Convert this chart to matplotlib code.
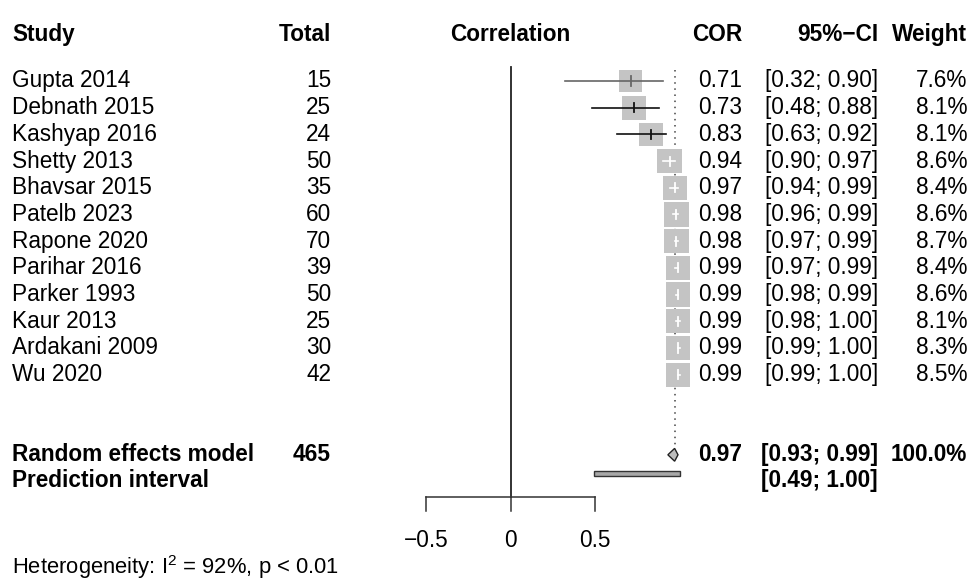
import numpy as np
import matplotlib.pyplot as plt
from matplotlib.patches import Rectangle, Polygon
import matplotlib.transforms as mtransforms

plt.rcParams['font.family'] = ['Liberation Sans', 'DejaVu Sans']
plt.rcParams['mathtext.fontset'] = 'custom'
plt.rcParams['mathtext.rm'] = 'Liberation Sans'

studies = ['Gupta 2014', 'Debnath 2015', 'Kashyap 2016', 'Shetty 2013', 'Bhavsar 2015',
           'Patelb 2023', 'Rapone 2020', 'Parihar 2016', 'Parker 1993', 'Kaur 2013',
           'Ardakani 2009', 'Wu 2020']
totals = [15, 25, 24, 50, 35, 60, 70, 39, 50, 25, 30, 42]
cor = [0.71, 0.73, 0.83, 0.94, 0.97, 0.98, 0.98, 0.99, 0.99, 0.99, 0.99, 0.99]
lower = [0.32, 0.48, 0.63, 0.90, 0.94, 0.96, 0.97, 0.97, 0.98, 0.98, 0.99, 0.99]
upper = [0.90, 0.88, 0.92, 0.97, 0.99, 0.99, 0.99, 0.99, 0.99, 1.00, 1.00, 1.00]
weights = [7.6, 8.1, 8.1, 8.6, 8.4, 8.6, 8.7, 8.4, 8.6, 8.1, 8.3, 8.5]

re_total = 465
re_cor, re_lo, re_hi = 0.97, 0.93, 0.99
pi_lo, pi_hi = 0.49, 1.00
xticks = [-0.5, 0, 0.5]

W, H = 971, 582
fig = plt.figure(figsize=(W / 100, H / 100), dpi=100)
ax = fig.add_axes([0, 0, 1, 1])
ax.axis('off')
# 1 correlation unit = 169 px, zero at 510.7 px; one row = 26.7 px
ax.set_xlim(-510.7 / 169, (W - 510.7) / 169)
ax.set_ylim((H - 81) / 26.7, -81 / 26.7)
px_x = W / (ax.get_xlim()[1] - ax.get_xlim()[0])
px_y = H / (ax.get_ylim()[0] - ax.get_ylim()[1])

fs = 16.3
tr = mtransforms.blended_transform_factory(fig.transFigure, ax.transData)
col_study, col_total, col_cor, col_ci, col_wt = 12 / W, 331 / W, 742 / W, 878 / W, 967 / W

# header
hy = -1.76
ax.text(col_study, hy, 'Study', transform=tr, fontsize=fs, fontweight='bold', va='center')
ax.text(col_total, hy, 'Total', transform=tr, fontsize=fs, fontweight='bold', va='center', ha='right')
ax.text(0.0, hy, 'Correlation', fontsize=fs, fontweight='bold', va='center', ha='center')
ax.text(col_cor, hy, 'COR', transform=tr, fontsize=fs, fontweight='bold', va='center', ha='right')
ax.text(col_ci, hy, '95%\u2212CI', transform=tr, fontsize=fs, fontweight='bold', va='center', ha='right')
ax.text(col_wt, hy, 'Weight', transform=tr, fontsize=fs, fontweight='bold', va='center', ha='right')

re_row, pi_row = 14, 15
axis_y = 15.57

# reference lines
ax.plot([0, 0], [-0.52, axis_y], color='#222222', lw=1.3, zorder=1)
dia_h = 0.24
ax.plot([re_cor, re_cor], [-0.42, re_row - dia_h], color='#444444', lw=1.1,
        linestyle=(0, (1, 3)), zorder=1)

for i in range(len(studies)):
    side = 8.34 * np.sqrt(weights[i])  # px
    bw, bh = side / px_x, side / px_y
    ax.add_patch(Rectangle((cor[i] - bw / 2, i - bh / 2), bw, bh,
                           facecolor='#c4c4c4', edgecolor='none', zorder=2))
    inside = (lower[i] >= cor[i] - bw / 2) and (upper[i] <= cor[i] + bw / 2)
    lc = 'white' if inside else ('#666666' if i == 0 else '#111111')
    ax.plot([lower[i], upper[i]], [i, i], color=lc, lw=1.2, zorder=3)
    ax.plot([cor[i], cor[i]], [i - 0.17, i + 0.17], color=lc, lw=1.3, zorder=3)

    ax.text(col_study, i, studies[i], transform=tr, fontsize=fs, va='center')
    ax.text(col_total, i, str(totals[i]), transform=tr, fontsize=fs, va='center', ha='right')
    ax.text(col_cor, i, f'{cor[i]:.2f}', transform=tr, fontsize=fs, va='center', ha='right')
    ax.text(col_ci, i, f'[{lower[i]:.2f}; {upper[i]:.2f}]', transform=tr, fontsize=fs,
            va='center', ha='right')
    ax.text(col_wt, i, f'{weights[i]:.1f}%', transform=tr, fontsize=fs, va='center', ha='right')

# random effects diamond
ax.add_patch(Polygon([[re_lo, re_row], [re_cor, re_row - dia_h], [re_hi, re_row],
                      [re_cor, re_row + dia_h]], closed=True,
                     facecolor='#bdbdbd', edgecolor='#222222', lw=1.0, zorder=3))
ax.text(col_study, re_row, 'Random effects model', transform=tr, fontsize=fs,
        fontweight='bold', va='center')
ax.text(col_total, re_row, str(re_total), transform=tr, fontsize=fs, fontweight='bold',
        va='center', ha='right')
ax.text(col_cor, re_row, f'{re_cor:.2f}', transform=tr, fontsize=fs, fontweight='bold',
        va='center', ha='right')
ax.text(col_ci, re_row, f'[{re_lo:.2f}; {re_hi:.2f}]', transform=tr, fontsize=fs,
        fontweight='bold', va='center', ha='right')
ax.text(col_wt, re_row, '100.0%', transform=tr, fontsize=fs, fontweight='bold',
        va='center', ha='right')

# prediction interval
ph = 5 / px_y
ax.add_patch(Rectangle((pi_lo, pi_row - 0.3 - ph / 2), pi_hi - pi_lo, ph,
                       facecolor='#a8a8a8', edgecolor='#333333', lw=1.0, zorder=3))
ax.text(col_study, pi_row - 0.05, 'Prediction interval', transform=tr, fontsize=fs,
        fontweight='bold', va='center')
ax.text(col_ci, pi_row - 0.05, f'[{pi_lo:.2f}; {pi_hi:.2f}]', transform=tr, fontsize=fs,
        fontweight='bold', va='center', ha='right')

# x axis
ax.plot([xticks[0], xticks[-1]], [axis_y, axis_y], color='#333333', lw=1.1)
for t in xticks:
    ax.plot([t, t], [axis_y, axis_y + 0.54], color='#333333', lw=1.1)
    lab = '0' if t == 0 else f'{t:g}'.replace('-', '\u2212')
    ax.text(t, 17.2, lab, fontsize=fs, ha='center', va='center')

ax.text(col_study, 18.22, r'Heterogeneity: $\mathregular{I^2}$ = 92%, p < 0.01',
        transform=tr, fontsize=fs - 0.5, va='center')

fig.savefig('out.png', dpi=100, facecolor='white')
